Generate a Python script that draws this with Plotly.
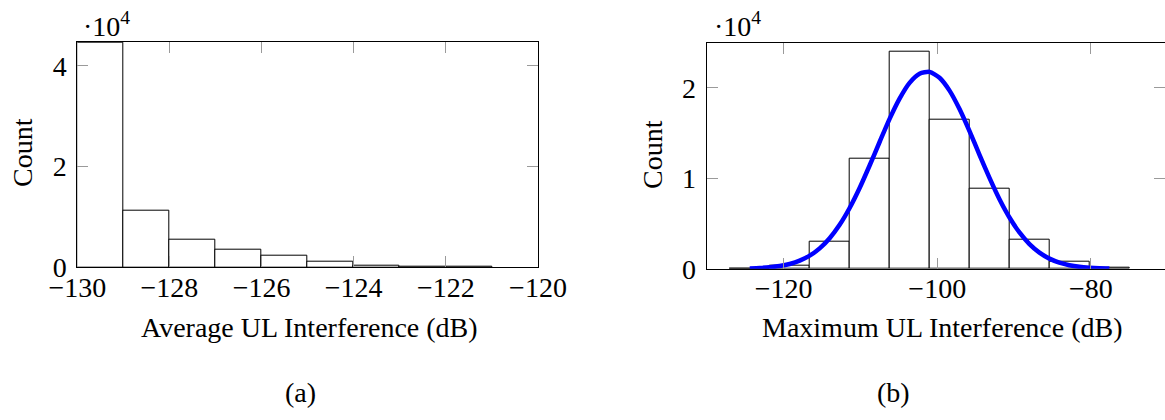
import plotly.graph_objects as go

# ---- (a) Average UL interference histogram: bin edges (dB) and counts ----
avg_edges = [-130, -129, -128, -127, -126, -125, -124, -123, -122, -121]
avg_counts = [44600, 11300, 5550, 3420, 2360, 1030, 230, 60, 30]

# ---- (b) Maximum UL interference histogram: bin edges (dB) and counts ----
max_edges = [-127.06, -121.85, -116.65, -111.44, -106.24, -101.03,
             -95.83, -90.62, -85.42, -80.21, -75.0]
max_counts = [50, 300, 2990, 12140, 24060, 16460, 8890, 3250, 740, 70]

# Fitted normal curve drawn over (b), sampled points (dB, count)
fit_x = [-124.4, -123.1, -121.8, -120.5, -119.2, -117.9, -116.6, -115.3, -114.0,
         -112.7, -111.4, -110.1, -108.8, -107.5, -106.2, -104.9, -103.6, -102.3,
         -101.0, -99.7, -98.4, -97.1, -95.8, -94.5, -93.2, -91.9, -90.6, -89.3,
         -88.0, -86.7, -85.4, -84.1, -82.8, -81.5, -80.2, -78.9, -77.6]
fit_y = [45, 88, 167, 303, 532, 896, 1450, 2257, 3380,
         4860, 6720, 8930, 11420, 14020, 16580, 18820, 20560, 21570,
         21770, 21120, 19700, 17660, 15220, 12610, 10050, 7690, 5670, 4020,
         2730, 1790, 1124, 680, 395, 221, 119, 61, 30]

y_ticks_a = [0, 20000, 40000]
y_ticktext_a = ["0", "2", "4"]
y_ticks_b = [0, 10000, 20000]
y_ticktext_b = ["0", "1", "2"]
x_ticks_a = [-130, -128, -126, -124, -122, -120]
x_ticks_b = [-120, -100, -80]

FONT = "Liberation Serif"
FS = 28


def bar_geom(edges):
    widths = [edges[i + 1] - edges[i] for i in range(len(edges) - 1)]
    centers = [edges[i] + widths[i] / 2 for i in range(len(widths))]
    return centers, widths


fig = go.Figure()

ca, wa = bar_geom(avg_edges)
fig.add_trace(go.Bar(x=ca, y=avg_counts, width=wa, xaxis="x", yaxis="y",
                     marker=dict(color="white", line=dict(color="black", width=1)),
                     showlegend=False))

cb, wb = bar_geom(max_edges)
fig.add_trace(go.Bar(x=cb, y=max_counts, width=wb, xaxis="x2", yaxis="y2",
                     marker=dict(color="white", line=dict(color="black", width=1)),
                     showlegend=False))

fig.add_trace(go.Scatter(x=fit_x, y=fit_y, xaxis="x2", yaxis="y2", mode="lines",
                         line=dict(color="#0000ff", width=4.5, shape="spline", smoothing=0.6),
                         showlegend=False))

axis_common = dict(showline=True, linecolor="black", linewidth=1, ticks="inside",
                   ticklen=11, tickcolor="#9a9a9a", tickwidth=1, showgrid=False,
                   zeroline=False, automargin=False,
                   tickfont=dict(family=FONT, size=FS, color="black"))

fig.update_layout(
    width=1165, height=420,
    margin=dict(l=0, r=0, t=0, b=0),
    paper_bgcolor="white", plot_bgcolor="white",
    bargap=0,
    xaxis=dict(domain=[77.3 / 1165, 538.0 / 1165], range=[-130, -120],
               tickvals=x_ticks_a, mirror="ticks", anchor="y",
               ticklabelstandoff=-5, **axis_common),
    yaxis=dict(domain=[1 - 267.3 / 420, 1 - 41.7 / 420], range=[0, 44800],
               tickvals=y_ticks_a, ticktext=y_ticktext_a, mirror="ticks", anchor="x",
               ticklabelstandoff=4, **axis_common),
    xaxis2=dict(domain=[706.7 / 1165, 1.0], range=[-130, -70.36],
                tickvals=x_ticks_b, mirror="ticks", anchor="y2",
                ticklabelstandoff=-5, **axis_common),
    yaxis2=dict(domain=[1 - 268.8 / 420, 1 - 42.7 / 420], range=[0, 25000],
                tickvals=y_ticks_b, ticktext=y_ticktext_b, mirror=False, anchor="x2",
                ticklabelstandoff=4, **axis_common),
    # right-hand tick marks of panel (b) without a border line
    yaxis3=dict(domain=[1 - 268.8 / 420, 1 - 42.7 / 420], range=[0, 25000],
                overlaying="y2", side="right", anchor="x2", showline=False,
                ticks="inside", ticklen=11, tickcolor="#9a9a9a", tickwidth=1,
                tickvals=y_ticks_b, showticklabels=False, showgrid=False,
                zeroline=False, automargin=False),
)

# invisible trace to activate yaxis3
fig.add_trace(go.Scatter(x=[-130], y=[0], xaxis="x2", yaxis="y3", mode="markers",
                         marker=dict(opacity=0), showlegend=False, hoverinfo="skip"))

txt = dict(family=FONT, size=FS, color="black")
annotations = [
    dict(text="Average UL Interference (dB)", x=309 / 1165, y=1 - 327 / 420),
    dict(text="Maximum UL Interference (dB)", x=942 / 1165, y=1 - 327 / 420),
    dict(text="Count", x=22 / 1165, y=1 - 153 / 420, textangle=-90),
    dict(text="Count", x=652 / 1165, y=1 - 155 / 420, textangle=-90),
    dict(text="·10<sup>4</sup>", x=106 / 1165, y=1 - 24 / 420),
    dict(text="·10<sup>4</sup>", x=737 / 1165, y=1 - 24 / 420),
    dict(text="(a)", x=300 / 1165, y=1 - 392 / 420),
    dict(text="(b)", x=893 / 1165, y=1 - 392 / 420),
]
for a in annotations:
    fig.add_annotation(xref="paper", yref="paper", showarrow=False,
                       xanchor="center", yanchor="middle", font=txt, **a)

fig.write_html("out.html")
